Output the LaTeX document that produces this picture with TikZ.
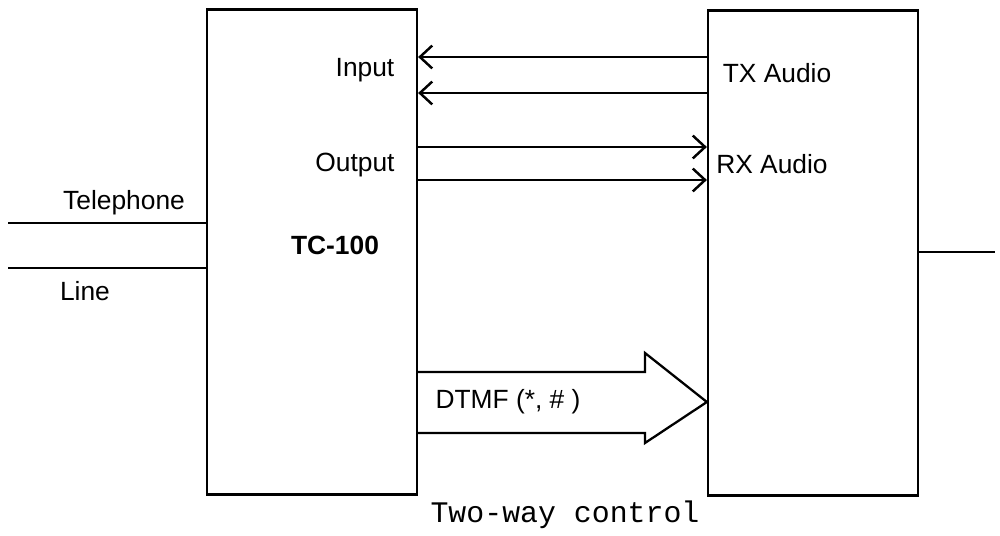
\documentclass[tikz,border=0pt]{standalone}
\usepackage{fontspec}
\setmainfont{Liberation Sans}
\setmonofont{Liberation Mono}
\usetikzlibrary{arrows.meta}
\begin{document}
\begin{tikzpicture}[x=0.02cm,y=-0.02cm,line width=1.3pt,
    unit/.style={draw,minimum width=4.2cm,minimum height=9.7cm,inner sep=0pt},
    sig/.style={-{Straight Barb[length=7pt,width=13pt,line width=1.4pt]}},
    lbl/.style={font=\fontsize{15}{17}\selectfont}]
  \useasboundingbox (0,0) rectangle (1000,536);
  \node[unit] (tc) at (312,252) {};
  \node[unit] (rx) at (813,253) {};
  \draw
    (365,70) node[lbl] (input){Input}
    (355,165) node[lbl] (output){Output}
    (335,245) node[lbl,font=\fontsize{15}{17}\selectfont\bfseries] (name){TC-100}
    (777,73) node[lbl] (txa){TX Audio}
    (772,164) node[lbl] (rxa){RX Audio}
    (124,203) node[lbl] (tel){Telephone}
    (85,291) node[lbl] (line){Line}
    (565,515) node[font=\fontsize{17}{19}\ttfamily] (title){Two-way control};
  \coordinate (a1) at (0,57);
  \coordinate (a2) at (0,93);
  \coordinate (a3) at (0,147);
  \coordinate (a4) at (0,180);
  \coordinate (t1) at (8,223);
  \coordinate (t2) at (8,268);
  \coordinate (out) at (995,252);
  \begin{scope}[sig]
    \draw (a1 -| rx.west) -- (a1 -| tc.east);
    \draw (a2 -| rx.west) -- (a2 -| tc.east);
    \draw (a3 -| tc.east) -- (a3 -| rx.west);
    \draw (a4 -| tc.east) -- (a4 -| rx.west);
  \end{scope}
  \draw (t1) -- (t1 -| tc.west);
  \draw (t2) -- (t2 -| tc.west);
  \draw (out -| rx.east) -- (out);
  % DTMF arrow
  \coordinate (tip) at (rx.west |- 0,402);
  \draw (tc.east |- 0,372) -- (645,372) -- (645,353) -- (tip)
    -- (645,443) -- (645,433) -- (tc.east |- 0,433);
  \node[lbl] (dtmf) at (508,402) {DTMF (*, \# )};
\end{tikzpicture}
\end{document}
